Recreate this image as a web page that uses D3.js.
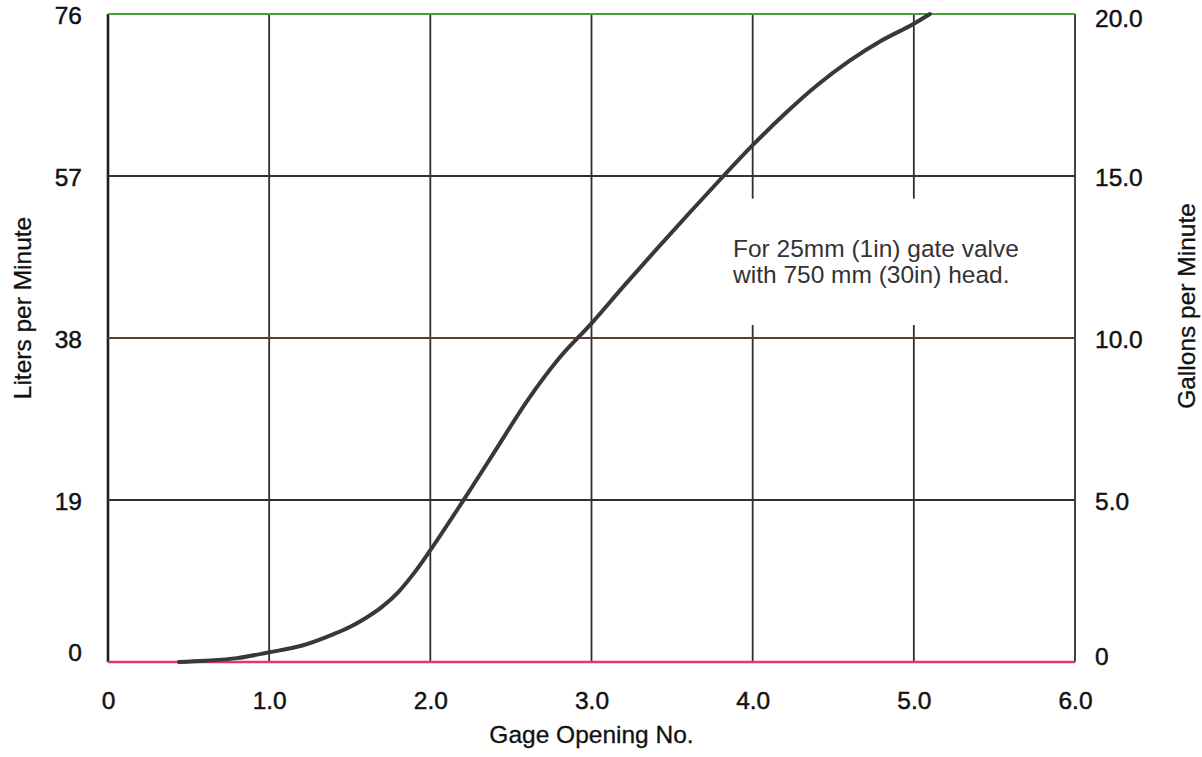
<!DOCTYPE html>
<html>
<head>
<meta charset="utf-8">
<script src="https://cdn.jsdelivr.net/npm/d3@7"></script>
<style>
  html, body { margin: 0; padding: 0; background: #fff; }
  svg { display: block; }
  text { font-family: "Liberation Sans", Arial, Helvetica, sans-serif; }
</style>
</head>
<body>
<div id="chart"></div>
<script>
// Flow through a 25 mm gate valve vs. gage opening
const gageOpening = [0.44, 0.6, 0.8, 1.0, 1.2, 1.4, 1.5, 1.6, 1.7, 1.8, 1.9, 2.0, 2.2, 2.4, 2.6, 2.8, 3.0, 3.2, 3.4, 3.6, 3.8, 4.0, 4.2, 4.4, 4.6, 4.8, 5.0, 5.1];
const gallonsPerMinute = [0.0, 0.04, 0.12, 0.3, 0.5, 0.86, 1.08, 1.36, 1.7, 2.15, 2.75, 3.45, 4.95, 6.5, 8.05, 9.38, 10.45, 11.6, 12.72, 13.82, 14.9, 15.95, 16.92, 17.8, 18.55, 19.18, 19.7, 20.0];

const xTicks = [0, 1, 2, 3, 4, 5, 6];
const xTickLabels = ["0", "1.0", "2.0", "3.0", "4.0", "5.0", "6.0"];
const gpmTicks = [0, 5, 10, 15, 20];
const gpmTickLabels = ["0", "5.0", "10.0", "15.0", "20.0"];
const lpmTicks = [0, 19, 38, 57, 76];
const lpmTickLabels = ["0", "19", "38", "57", "76"];

const noteLines = ["For 25mm (1in) gate valve", "with 750 mm (30in) head."];

const W = 1202, H = 757;
const m = { left: 108, right: 127, top: 14, bottom: 95 };

const svg = d3.select("#chart").append("svg")
  .attr("width", W).attr("height", H);

const x = d3.scaleLinear().domain([0, 6]).range([m.left, W - m.right]);
const yG = d3.scaleLinear().domain([0, 20]).range([H - m.bottom, m.top]);
const yL = d3.scaleLinear().domain([0, 76]).range([H - m.bottom, m.top]);

const fontSize = 24.5;
const ink = "#111";

function heavy(sel) {
  sel.attr("font-size", fontSize).attr("fill", ink)
    .attr("stroke", ink).attr("stroke-width", 0.45)
    .attr("font-family", "Liberation Sans, Arial, sans-serif");
}

// vertical grid
svg.append("g").selectAll("line").data(xTicks).join("line")
  .attr("x1", d => x(d)).attr("x2", d => x(d))
  .attr("y1", yG(20)).attr("y2", yG(0))
  .attr("stroke", (d, i) => (i === 0 ? "#1e1e1e" : "#2f2f2f"))
  .attr("stroke-width", (d, i) => (i === 0 ? 2.6 : 1.8));

// horizontal grid
const hColors = { 0: "#e23a66", 5: "#303030", 10: "#5e3c30", 15: "#3a302a", 20: "#4a9e3a" };
svg.append("g").selectAll("line").data(gpmTicks).join("line")
  .attr("x1", x(0)).attr("x2", x(6))
  .attr("y1", d => yG(d)).attr("y2", d => yG(d))
  .attr("stroke", d => hColors[d])
  .attr("stroke-width", d => (d === 0 ? 2.6 : 2));

// blank panel behind the note
svg.append("rect")
  .attr("x", x(3.8)).attr("y", yG(14.3))
  .attr("width", x(5.95) - x(3.8)).attr("height", yG(10.4) - yG(14.3))
  .attr("fill", "#fff");

// flow curve
const line = d3.line()
  .x((d, i) => x(gageOpening[i]))
  .y(d => yG(d))
  .curve(d3.curveMonotoneX);
svg.append("path")
  .datum(gallonsPerMinute)
  .attr("d", line)
  .attr("fill", "none")
  .attr("stroke", "#383838")
  .attr("stroke-width", 4)
  .attr("stroke-linecap", "round");

// bottom axis
const xAxis = d3.axisBottom(x).tickValues(xTicks)
  .tickFormat((d, i) => xTickLabels[i]).tickSize(0).tickPadding(30);
const gx = svg.append("g").attr("transform", `translate(0,${yG(0)})`).call(xAxis);
gx.select(".domain").remove();
gx.selectAll("text").call(heavy);

// left axis (liters)
const yAxisL = d3.axisLeft(yL).tickValues(lpmTicks)
  .tickFormat((d, i) => lpmTickLabels[i]).tickSize(0).tickPadding(26);
const gl = svg.append("g").attr("transform", `translate(${x(0)},0)`).call(yAxisL);
gl.select(".domain").remove();
gl.selectAll("text").call(heavy)
  .attr("dy", d => (d === 0 ? "-0.05em" : "0.37em"));

// right axis (gallons)
const yAxisR = d3.axisRight(yG).tickValues(gpmTicks)
  .tickFormat((d, i) => gpmTickLabels[i]).tickSize(0).tickPadding(20);
const gr = svg.append("g").attr("transform", `translate(${x(6)},0)`).call(yAxisR);
gr.select(".domain").remove();
gr.selectAll("text").call(heavy)
  .attr("dy", d => (d === 0 ? "0.1em" : d === 20 ? "0.5em" : "0.4em"));

// axis titles
svg.append("text")
  .attr("transform", `translate(31,${yL(38) - 30}) rotate(-90)`)
  .attr("text-anchor", "middle").call(heavy).attr("stroke-width", 0.3)
  .text("Liters per Minute");
svg.append("text")
  .attr("transform", `translate(1195,${yG(10) - 32}) rotate(-90)`)
  .attr("text-anchor", "middle").call(heavy).attr("stroke-width", 0.3)
  .text("Gallons per Minute");
svg.append("text")
  .attr("x", (x(0) + x(6)) / 2).attr("y", 743)
  .attr("text-anchor", "middle").call(heavy).attr("stroke-width", 0.3)
  .text("Gage Opening No.");

// note
svg.append("g").selectAll("text").data(noteLines).join("text")
  .attr("x", 733).attr("y", (d, i) => 257 + i * 25.5)
  .attr("font-size", fontSize).attr("fill", "#333")
  .text(d => d);
</script>
</body>
</html>
